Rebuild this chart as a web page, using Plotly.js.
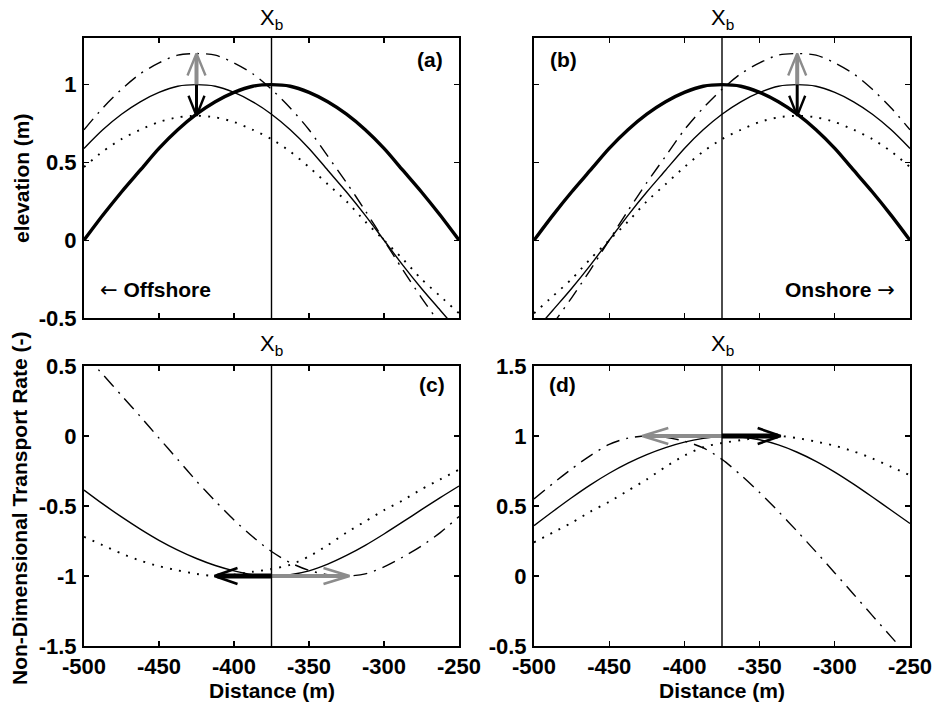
<!DOCTYPE html>
<html>
<head>
<meta charset="utf-8">
<script src="https://cdn.plot.ly/plotly-3.0.1.min.js"></script>
<style>html,body{margin:0;padding:0;background:#fff;}#chart{width:934px;height:705px;}</style>
</head>
<body>
<div id="chart"></div>
<script>
// ---------------- data ----------------
const distance = [-500, -487.5, -475, -462.5, -450, -437.5, -425, -412.5, -400, -387.5, -375,
                  -362.5, -350, -337.5, -325, -312.5, -300, -287.5, -275, -262.5, -250];
const XB = -375;

// (a) elevation, offshore shift
const aThick   = [0, 0.16, 0.31, 0.45, 0.59, 0.71, 0.81, 0.89, 0.95, 0.99, 1, 0.99, 0.95, 0.89, 0.81, 0.71, 0.59, 0.45, 0.31, 0.16, 0];
const aThin    = [0.59, 0.71, 0.81, 0.89, 0.95, 0.99, 1, 0.99, 0.95, 0.89, 0.81, 0.71, 0.59, 0.45, 0.31, 0.16, 0, -0.16, -0.31, -0.45, -0.59];
const aDot     = [0.47, 0.57, 0.65, 0.71, 0.76, 0.79, 0.8, 0.79, 0.76, 0.71, 0.65, 0.57, 0.47, 0.36, 0.25, 0.12, 0, -0.12, -0.25, -0.36, -0.47];
const aDashDot = [0.71, 0.85, 0.97, 1.07, 1.14, 1.19, 1.2, 1.19, 1.14, 1.07, 0.97, 0.85, 0.71, 0.54, 0.37, 0.19, 0, -0.19, -0.37, -0.54, -0.71];

// (b) elevation, onshore shift
const bThick   = [0, 0.16, 0.31, 0.45, 0.59, 0.71, 0.81, 0.89, 0.95, 0.99, 1, 0.99, 0.95, 0.89, 0.81, 0.71, 0.59, 0.45, 0.31, 0.16, 0];
const bThin    = [-0.59, -0.45, -0.31, -0.16, 0, 0.16, 0.31, 0.45, 0.59, 0.71, 0.81, 0.89, 0.95, 0.99, 1, 0.99, 0.95, 0.89, 0.81, 0.71, 0.59];
const bDot     = [-0.47, -0.36, -0.25, -0.12, 0, 0.12, 0.25, 0.36, 0.47, 0.57, 0.65, 0.71, 0.76, 0.79, 0.8, 0.79, 0.76, 0.71, 0.65, 0.57, 0.47];
const bDashDot = [-0.71, -0.54, -0.37, -0.19, 0, 0.19, 0.37, 0.54, 0.71, 0.85, 0.97, 1.07, 1.14, 1.19, 1.2, 1.19, 1.14, 1.07, 0.97, 0.85, 0.71];

// (c) transport rate
const cSolid   = [-0.386, -0.485, -0.578, -0.665, -0.745, -0.815, -0.875, -0.925, -0.963, -0.99, -1.0, -0.99, -0.963, -0.915, -0.853, -0.781, -0.7, -0.614, -0.526, -0.44, -0.357];
const cDot     = [-0.72, -0.78, -0.84, -0.89, -0.93, -0.96, -0.985, -1.0, -0.99, -0.97, -0.95, -0.92, -0.86, -0.78, -0.69, -0.61, -0.53, -0.46, -0.38, -0.31, -0.24];
const cDashDot = [0.585, 0.44, 0.29, 0.14, -0.015, -0.168, -0.322, -0.465, -0.6, -0.72, -0.825, -0.905, -0.96, -0.99, -1.0, -0.985, -0.935, -0.865, -0.785, -0.69, -0.575];

// (d) transport rate
const dSolid   = [0.36, 0.461, 0.559, 0.651, 0.734, 0.806, 0.867, 0.917, 0.956, 0.983, 1.0, 0.993, 0.973, 0.936, 0.884, 0.819, 0.742, 0.656, 0.564, 0.47, 0.375];
const dDot     = [0.24, 0.31, 0.38, 0.46, 0.53, 0.61, 0.69, 0.78, 0.86, 0.92, 0.95, 0.97, 0.99, 1.0, 0.985, 0.96, 0.93, 0.89, 0.84, 0.78, 0.72];
const dDashDot = [0.55, 0.66, 0.765, 0.86, 0.94, 0.985, 1.0, 0.99, 0.963, 0.915, 0.833, 0.721, 0.596, 0.461, 0.319, 0.172, 0.022, -0.13, -0.283, -0.435, -0.585];

// arrows: [x0, y0, x1, y1]
const aGrayArrow  = [-425, 1.0, -425, 1.2];
const aBlackArrow = [-425, 1.0, -425, 0.8];
const bGrayArrow  = [-325, 1.0, -325, 1.2];
const bBlackArrow = [-325, 1.0, -325, 0.8];
const cBlackArrow = [-375, -1.0, -413, -1.0];
const cGrayArrow  = [-375, -1.0, -323, -1.0];
const dGrayArrow  = [-375, 1.0, -428, 1.0];
const dBlackArrow = [-375, 1.0, -336, 1.0];

// ticks
const xTickVals = [-500, -450, -400, -350, -300, -250];
const xTickText = ['-500', '-450', '-400', '-350', '-300', '-250'];
const yTopVals = [-0.5, 0, 0.5, 1];
const yTopText = ['-0.5', '0', '0.5', '1'];
const yCVals = [-1.5, -1, -0.5, 0, 0.5];
const yCText = ['-1.5', '-1', '-0.5', '0', '0.5'];
const yDVals = [-0.5, 0, 0.5, 1, 1.5];
const yDText = ['-0.5', '0', '0.5', '1', '1.5'];

// ---------------- layout geometry ----------------
const W = 934, H = 705;
const FONT = 'Liberation Sans, Arial, Helvetica, sans-serif';
const xRange = [-500, -250];
const yTopRange = [-0.5, 1.3];
const yCRange = [-1.5, 0.5];
const yDRange = [-0.5, 1.5];
const domL = [84 / W, 459 / W];
const domR = [534 / W, 910 / W];
const domT = [1 - 318 / H, 1 - 38 / H];
const domB = [1 - 646 / H, 1 - 366 / H];

const traces = [];
const sThick = {color: '#000', width: 3.4};
const sThin = {color: '#000', width: 1.4};
const sDot = {color: '#000', width: 1.9, dash: '1.9px,7.3px'};
const sDashDot = {color: '#000', width: 1.4, dash: '14px,7px,2px,7px'};

function curve(xa, ya, y, style) {
  traces.push({type: 'scatter', mode: 'lines', x: distance, y: y, xaxis: xa, yaxis: ya,
    line: Object.assign({shape: 'spline', smoothing: 0.8}, style), hoverinfo: 'skip', showlegend: false});
}

function arrow(xa, ya, xDom, yDom, yRange, a, color, shaftW, headW, headLen, headHalf) {
  const pxX = (xDom[1] - xDom[0]) * W / (xRange[1] - xRange[0]);
  const pxY = (yDom[1] - yDom[0]) * H / (yRange[1] - yRange[0]);
  const [x0, y0, x1, y1] = a;
  const dxp = (x1 - x0) * pxX, dyp = (y1 - y0) * pxY;
  const len = Math.hypot(dxp, dyp);
  const ux = dxp / len, uy = dyp / len;
  const nx = -uy, ny = ux;
  const bx = -ux * headLen, by = -uy * headLen;
  const hx = [x1 + (bx + nx * headHalf) / pxX, x1, x1 + (bx - nx * headHalf) / pxX];
  const hy = [y1 + (by + ny * headHalf) / pxY, y1, y1 + (by - ny * headHalf) / pxY];
  const sx = [x0, x1 - ux * 3 / pxX];
  const sy = [y0, y1 - uy * 3 / pxY];
  traces.push({type: 'scatter', mode: 'lines', x: sx, y: sy, xaxis: xa, yaxis: ya,
    line: {color: color, width: shaftW}, hoverinfo: 'skip', showlegend: false});
  traces.push({type: 'scatter', mode: 'lines', x: hx, y: hy, xaxis: xa, yaxis: ya,
    line: {color: color, width: headW}, hoverinfo: 'skip', showlegend: false});
}

const GRAY = '#8c8c8c';

// (a)
curve('x', 'y', aThick, sThick);
curve('x', 'y', aThin, sThin);
curve('x', 'y', aDot, sDot);
curve('x', 'y', aDashDot, sDashDot);
arrow('x', 'y', domL, domT, yTopRange, aGrayArrow, GRAY, 4, 2.4, 22, 9);
arrow('x', 'y', domL, domT, yTopRange, aBlackArrow, '#000', 3, 2.4, 20, 8);
// (b)
curve('x2', 'y2', bThick, sThick);
curve('x2', 'y2', bThin, sThin);
curve('x2', 'y2', bDot, sDot);
curve('x2', 'y2', bDashDot, sDashDot);
arrow('x2', 'y2', domR, domT, yTopRange, bGrayArrow, GRAY, 4, 2.4, 22, 9);
arrow('x2', 'y2', domR, domT, yTopRange, bBlackArrow, '#000', 3, 2.4, 20, 8);
// (c)
curve('x3', 'y3', cSolid, sThin);
curve('x3', 'y3', cDot, sDot);
curve('x3', 'y3', cDashDot, sDashDot);
arrow('x3', 'y3', domL, domB, yCRange, cGrayArrow, GRAY, 4, 2.6, 26, 8);
arrow('x3', 'y3', domL, domB, yCRange, cBlackArrow, '#000', 5, 2.6, 23, 8);
// (d)
curve('x4', 'y4', dSolid, sThin);
curve('x4', 'y4', dDot, sDot);
curve('x4', 'y4', dDashDot, sDashDot);
arrow('x4', 'y4', domR, domB, yDRange, dGrayArrow, GRAY, 4, 2.6, 26, 8);
arrow('x4', 'y4', domR, domB, yDRange, dBlackArrow, '#000', 5, 2.6, 23, 8);

const tickFont = {family: FONT, size: 22, color: '#000', weight: 'bold'};
function xAxis(domain, anchor, labels) {
  return {domain: domain, anchor: anchor, range: xRange, tickmode: 'array', tickvals: xTickVals, ticktext: xTickText,
    showticklabels: labels, ticks: 'inside', ticklen: 5, tickwidth: 1.3, tickcolor: '#000',
    showline: true, linewidth: 2, linecolor: '#000', mirror: 'ticks', showgrid: false, zeroline: false,
    tickfont: tickFont, ticklabelstandoff: 0, fixedrange: true};
}
function yAxis(domain, anchor, range, vals, text, labels) {
  return {domain: domain, anchor: anchor, range: range, tickmode: 'array', tickvals: vals, ticktext: text,
    showticklabels: labels, ticks: 'inside', ticklen: 5, tickwidth: 1.3, tickcolor: '#000',
    showline: true, linewidth: 2, linecolor: '#000', mirror: 'ticks', showgrid: false, zeroline: false,
    tickfont: tickFont, ticklabelstandoff: 1, fixedrange: true};
}

function vline(xref, yref) {
  return {type: 'line', xref: xref, yref: yref + ' domain', x0: XB, x1: XB, y0: 0, y1: 1,
    line: {color: '#000', width: 1.4}, layer: 'above'};
}

function txt(text, px, py, size, bold, extra) {
  return Object.assign({text: text, xref: 'paper', yref: 'paper', x: px / W, y: 1 - py / H,
    xanchor: 'center', yanchor: 'middle', showarrow: false,
    font: {family: FONT, size: size, color: '#000', weight: bold ? 'bold' : 'normal'}}, extra || {});
}
function xb(xref, py) {
  return {text: 'X<sub>b</sub>', xref: xref, yref: 'paper', x: XB, y: 1 - py / H,
    xanchor: 'center', yanchor: 'bottom', showarrow: false,
    font: {family: FONT, size: 22, color: '#000'}};
}
const LARR = '<span style="font-family:DejaVu Sans;font-weight:normal">\u2190</span>';
const RARR = '<span style="font-family:DejaVu Sans;font-weight:normal">\u2192</span>';

const layout = {
  width: W, height: H, margin: {l: 0, r: 0, t: 0, b: 0},
  paper_bgcolor: '#fff', plot_bgcolor: '#fff', showlegend: false,
  xaxis: xAxis(domL, 'y', false),
  yaxis: yAxis(domT, 'x', yTopRange, yTopVals, yTopText, true),
  xaxis2: xAxis(domR, 'y2', false),
  yaxis2: yAxis(domT, 'x2', yTopRange, yTopVals, yTopText, false),
  xaxis3: xAxis(domL, 'y3', true),
  yaxis3: yAxis(domB, 'x3', yCRange, yCVals, yCText, true),
  xaxis4: xAxis(domR, 'y4', true),
  yaxis4: yAxis(domB, 'x4', yDRange, yDVals, yDText, true),
  shapes: [vline('x', 'y'), vline('x2', 'y2'), vline('x3', 'y3'), vline('x4', 'y4')],
  annotations: [
    xb('x', 35), xb('x2', 35), xb('x3', 361), xb('x4', 361),
    txt('(a)', 430, 59, 21, true), txt('(b)', 563, 59, 21, true),
    txt('(c)', 432, 384, 21, true), txt('(d)', 562, 384, 21, true),
    txt(LARR + ' Offshore', 155, 290, 21, true), txt('Onshore ' + RARR, 840, 290, 21, true),
    txt('elevation (m)', 22, 178, 21, true, {textangle: -90}),
    txt('Non-Dimensional Transport Rate (-)', 19, 508, 21, true, {textangle: -90}),
    txt('Distance (m)', 271.5, 690, 21, true), txt('Distance (m)', 722, 690, 21, true)
  ]
};

Plotly.newPlot('chart', traces, layout, {staticPlot: true, displayModeBar: false});
</script>
</body>
</html>
